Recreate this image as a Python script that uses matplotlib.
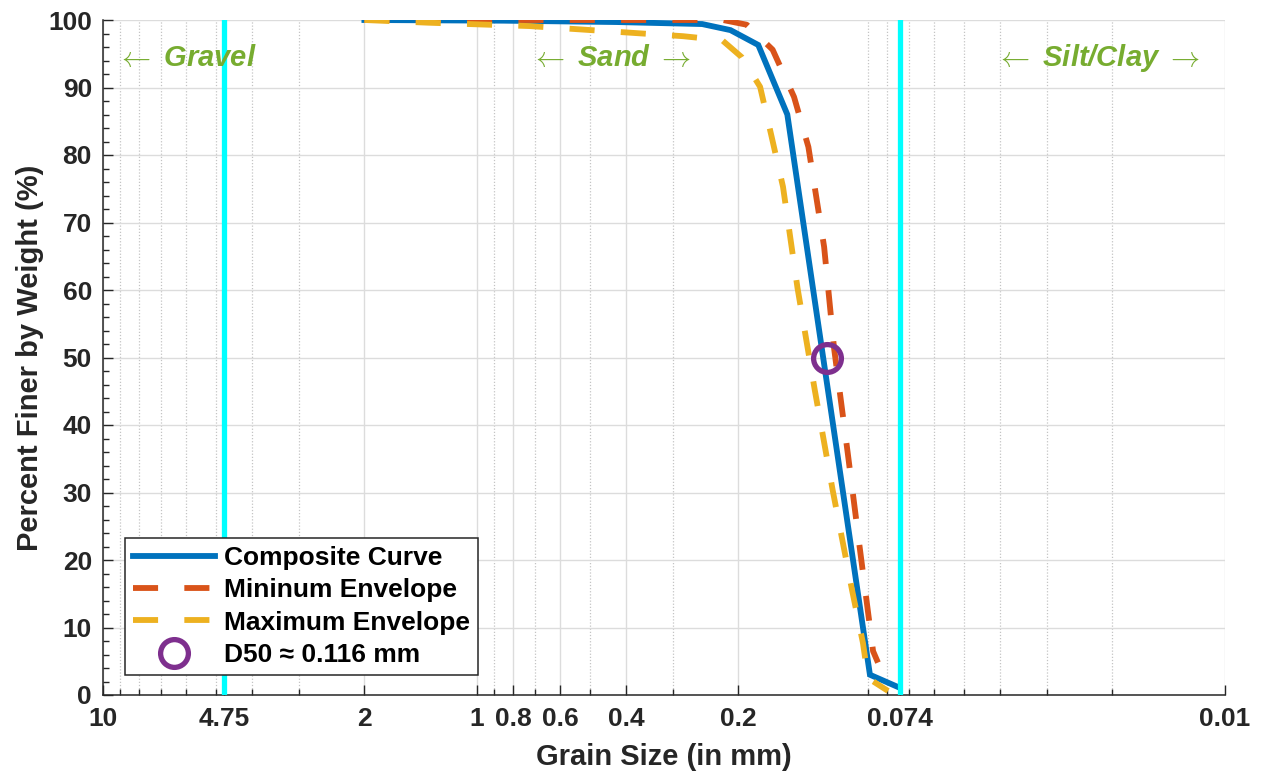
import matplotlib
matplotlib.use("Agg")
import matplotlib.pyplot as plt
from matplotlib.ticker import FixedLocator, FixedFormatter, LogLocator, MultipleLocator, NullFormatter

plt.rcParams['font.family'] = ['Liberation Sans', 'DejaVu Sans']
plt.rcParams['font.weight'] = 'bold'

# ---- data ----
blue_x = [2.0, 0.85, 0.425, 0.25, 0.21, 0.177, 0.148, 0.089, 0.075]
blue_y = [100, 99.9, 99.7, 99.4, 98.5, 96.3, 86.0, 3.0, 1.2]

red_x = [2.0, 0.25, 0.22, 0.19, 0.162, 0.142, 0.13, 0.118, 0.111, 0.102, 0.0946, 0.0873, 0.0847]
red_y = [100, 100, 100, 99.3, 95.6, 88.6, 81.2, 66.4, 51.4, 35.8, 21.5, 6.5, 4.8]

yellow_x = [2.0, 1.35, 0.722, 0.385, 0.281, 0.221, 0.196, 0.175, 0.163, 0.152,
            0.139, 0.125, 0.112, 0.0994, 0.0929, 0.090, 0.0796]
yellow_y = [100, 99.6, 99.1, 98.1, 97.6, 97.0, 94.5, 90.1, 82.7, 75.3,
            60.3, 45.2, 30.4, 15.6, 7.7, 2.5, 0.6]

d50_x = [0.116]
d50_y = [50]

boundaries = [4.75, 0.074]

xticks = [10, 4.75, 2, 1, 0.8, 0.6, 0.4, 0.2, 0.074, 0.01]
xticklabels = ['10', '4.75', '2', '1', '0.8', '0.6', '0.4', '0.2', '0.074', '0.01']
yticks = list(range(0, 101, 10))

labels = ['Composite Curve', 'Mininum Envelope', 'Maximum Envelope', 'D50 \u2248 0.116 mm']

zones = [(6.0, r'$\leftarrow$ Gravel'), (0.438, r'$\leftarrow$ Sand $\rightarrow$'),
         (0.02186, r'$\leftarrow$ Silt/Clay $\rightarrow$')]

# ---- styles ----
BLUE = '#0072BD'
RED = '#D95319'
YEL = '#EDB120'
PUR = '#7E2F8E'
CYAN = '#00FFFF'
GREEN = '#77AC30'
AX = '#262626'
LW = 4.2

fig = plt.figure(figsize=(12.63, 7.75), dpi=100)
ax = fig.add_axes([103/1263, 80/775, 1122/1263, 675/775])

ax.set_xscale('log')

l1, = ax.plot(blue_x, blue_y, color=BLUE, lw=LW, solid_joinstyle='miter', zorder=3, label=labels[0])
l2, = ax.plot(red_x, red_y, color=RED, lw=LW, ls=(0, (4.3, 4.5)), zorder=3, label=labels[1])
l3, = ax.plot(yellow_x, yellow_y, color=YEL, lw=LW, ls=(0, (4.3, 4.5)), zorder=3, label=labels[2])
l4, = ax.plot(d50_x, d50_y, ls='none', marker='o', ms=20, mfc='none', mec=PUR, mew=3.8,
              zorder=4, label=labels[3])

for b in boundaries:
    ax.axvline(b, color=CYAN, lw=3.8, zorder=5)

ax.set_xlim(10, 0.01)
ax.set_ylim(0, 100)

ax.xaxis.set_major_locator(FixedLocator(xticks))
ax.xaxis.set_major_formatter(FixedFormatter(xticklabels))
ax.xaxis.set_minor_locator(LogLocator(base=10, subs=[2, 3, 4, 5, 6, 7, 8, 9], numticks=20))
ax.xaxis.set_minor_formatter(NullFormatter())
ax.yaxis.set_major_locator(FixedLocator(yticks))
ax.yaxis.set_minor_locator(MultipleLocator(2))

ax.tick_params(which='both', direction='in', color=AX, labelcolor=AX, width=1.0,
               top=False, right=False)
ax.tick_params(which='major', length=7, labelsize=19)
ax.tick_params(which='minor', length=4.5)
ax.tick_params(axis='x', which='major', pad=9)
ax.tick_params(axis='y', which='major', pad=8)
for lab in ax.get_xticklabels() + ax.get_yticklabels():
    lab.set_fontweight('bold')

ax.grid(True, which='major', color='#dcdcdc', lw=1.0, ls='-', zorder=0)
ax.grid(True, which='minor', axis='x', color='#c4c4c4', lw=0.9, ls=(0, (1, 1.5)), zorder=0)
ax.set_axisbelow(True)

for s in ['top', 'right']:
    ax.spines[s].set_visible(False)
for s in ['left', 'bottom']:
    ax.spines[s].set_color(AX)
    ax.spines[s].set_linewidth(1.1)

ax.set_xlabel('Grain Size (in mm)', fontsize=21, fontweight='bold', color=AX)
ax.set_ylabel('Percent Finer by Weight (%)', fontsize=21, fontweight='bold', color=AX)
ax.xaxis.label.set_va('center')
ax.yaxis.label.set_va('center')
ax.xaxis.set_label_coords(0.5, (695 - 757) / 675)
ax.yaxis.set_label_coords((30 - 103) / 1122, 0.5)

for zx, zt in zones:
    ax.text(zx, 94.3, zt, color=GREEN, fontsize=21, fontweight='bold', fontstyle='italic',
            ha='center', va='center', zorder=6, math_fontfamily='cm')

leg = ax.legend(handles=[l1, l2, l3, l4], loc='lower left',
                bbox_to_anchor=((125 - 103) / 1122, (695 - 675) / 675),
                borderaxespad=0, fontsize=19, frameon=True, fancybox=False,
                framealpha=1, edgecolor=AX, handlelength=3.1, handletextpad=0.35,
                borderpad=0.3, labelspacing=0.32, numpoints=1)
leg.get_frame().set_linewidth(1.1)
leg.set_zorder(10)
for t in leg.get_texts():
    t.set_fontweight('bold')
    t.set_color('black')

fig.savefig('out.png', dpi=100)
